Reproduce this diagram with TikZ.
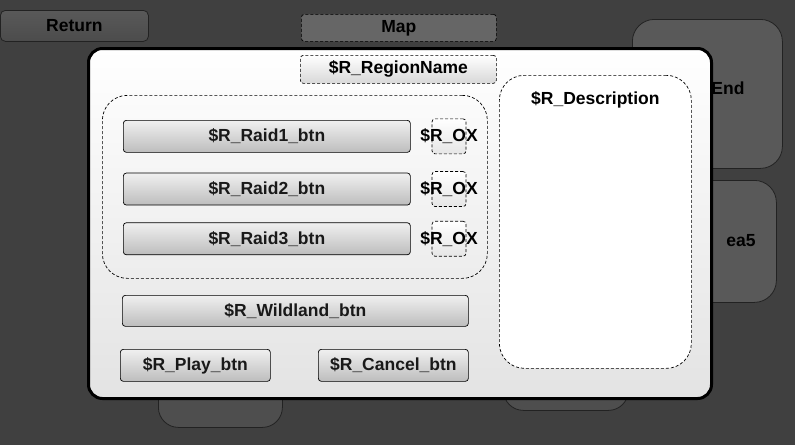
\documentclass[tikz,border=0pt]{standalone}
\usepackage{fontspec}
\setmainfont{Liberation Sans}
\usetikzlibrary{positioning}

\definecolor{bgdark}{HTML}{404040}
\definecolor{backbox}{HTML}{595959}
\definecolor{backline}{HTML}{222222}
\definecolor{mapfill}{HTML}{666666}
\definecolor{panelbot}{HTML}{E3E3E3}
\definecolor{btntop}{HTML}{F0F0F0}
\definecolor{btnbot}{HTML}{BDBDBD}

\begin{document}
\begin{tikzpicture}[
  x=1pt, y=-1pt,
  font=\fontsize{17.5}{20}\selectfont\bfseries,
  line width=0.8pt,
  back/.style={
     draw=backline,
     fill=backbox,
     rounded corners=22pt,
     anchor=north west,
     inner sep=0pt
  },
  panel/.style={
     draw=black,
     line width=3pt,
     top color=white,
     bottom color=panelbot,
     rounded corners=14pt,
     anchor=north west,
     inner sep=0pt
  },
  btn/.style={
     draw=black,
     line width=0.7pt,
     top color=btntop,
     bottom color=btnbot,
     rounded corners=3pt,
     anchor=north west,
     inner sep=0pt,
     text=black!90
  },
  dashbox/.style={
     draw=black,
     line width=0.7pt,
     dash pattern=on 3pt off 2pt,
     rounded corners=3pt,
     anchor=north west,
     inner sep=0pt
  },
  area/.style={
     dashbox,
     rounded corners=25pt
  }
]

% background
\path[use as bounding box, fill=bgdark] (0,0) rectangle (795,445);

% screen behind the popup
\node[back, rounded corners=5pt, minimum width=148pt, minimum height=31pt,
      top color=backbox, bottom color=backbox!85!black, text=black] (return) at (0,10) {Return};
\node[dashbox, fill=mapfill, minimum width=195pt, minimum height=27pt, text=black] (map) at (301,14) {Map};
\node[back, minimum width=150pt, minimum height=149pt] (areaend) at (632,19) {};
\node[back, minimum width=136pt, minimum height=122pt] (area5) at (640,180) {};
\node[back, rounded corners=20pt, fill=backbox!88!black, minimum width=124pt, minimum height=87pt] (backl) at (158,340) {};
\node[back, rounded corners=20pt, fill=backbox!88!black, minimum width=125pt, minimum height=70pt] (backr) at (503,340) {};
\node[text=black] (endtxt) at (728,88) {End};
\node[text=black] (a5txt) at (741,241) {ea5};

% popup
\node[panel, minimum width=623pt, minimum height=350pt] (popup) at (87,47) {};

\node[dashbox, top color=white, bottom color=panelbot!95!black, minimum width=196pt, minimum height=28pt] (region) at (300,55) {\$R\_RegionName};

\node[area, minimum width=385pt, minimum height=183pt] (raids) at (102,95) {};

\node[btn, minimum width=287pt, minimum height=32pt] (raid1) at (123,120) {\$R\_Raid1\_btn};
\node[btn, minimum width=287pt, minimum height=32pt, below=20pt of raid1] (raid2) {\$R\_Raid2\_btn};
\node[btn, minimum width=287pt, minimum height=32pt, below=17pt of raid2] (raid3) {\$R\_Raid3\_btn};

\foreach \i in {1,2,3}{
  \node[dashbox, anchor=west, top color=white, bottom color=white!90!black, minimum width=34pt, minimum height=35pt,
        right=21pt of raid\i] (ox\i) {};
  \node (oxtxt\i) at (ox\i) {\$R\_OX};
}

\node[btn, minimum width=346pt, minimum height=31pt] (wild) at (122,295) {\$R\_Wildland\_btn};
\node[btn, minimum width=150pt, minimum height=32pt] (play) at (120,349) {\$R\_Play\_btn};
\node[btn, minimum width=150pt, minimum height=32pt] (cancel) at (318,349) {\$R\_Cancel\_btn};

\node[area, fill=white, minimum width=192pt, minimum height=293pt] (desc) at (499,75) {};
\node (desctxt) at ([yshift=-25pt]desc.north) {\$R\_Description};

\end{tikzpicture}
\end{document}
